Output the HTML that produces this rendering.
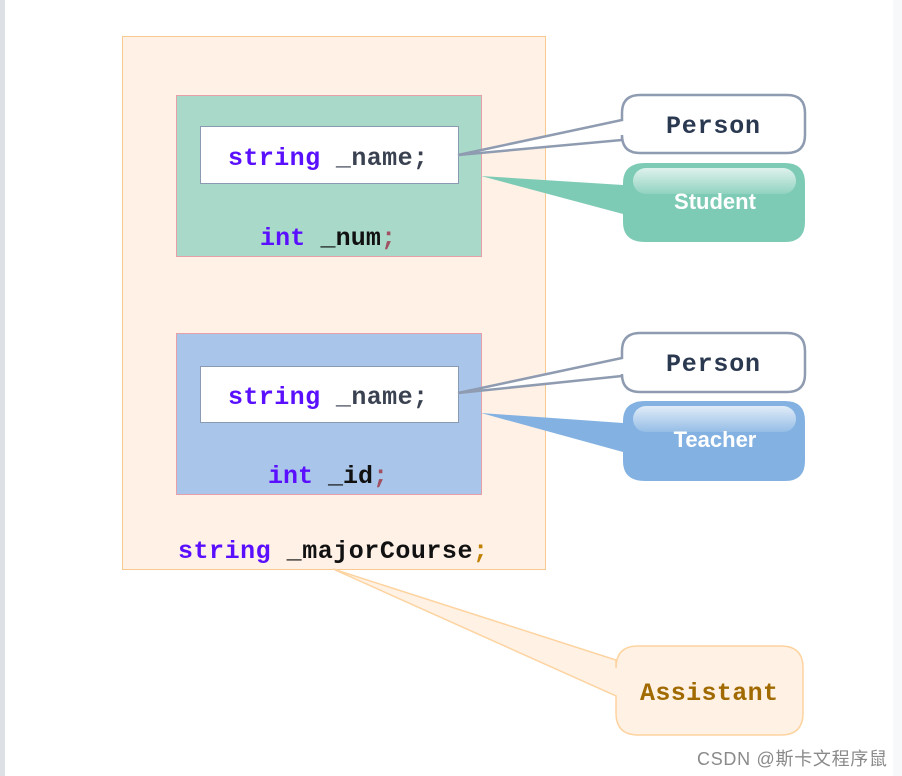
<!DOCTYPE html>
<html><head><meta charset="utf-8"><style>
html,body{margin:0;padding:0;background:#fff;}
svg{display:block;}
text{font-family:"Liberation Mono",monospace;}
</style></head><body>
<svg width="902" height="776" viewBox="0 0 902 776" xmlns="http://www.w3.org/2000/svg">
<defs>
<linearGradient id="gl" x1="0" y1="0" x2="0" y2="1"><stop offset="0" stop-color="#fff" stop-opacity="0.75"/><stop offset="1" stop-color="#fff" stop-opacity="0.15"/></linearGradient>
</defs>
<rect x="0" y="0" width="5" height="776" fill="#dde1e6"/>
<rect x="893" y="0" width="9" height="776" fill="#f7f8f9"/>
<rect x="122.5" y="36.5" width="423" height="533" fill="#fff1e6" stroke="#f9c98f"/>
<rect x="176.5" y="95.5" width="305" height="161" fill="#a9d9c9" stroke="#e8a0a8"/>
<rect x="200.5" y="126.5" width="258" height="57" fill="#fff" stroke="#8a9ab0"/>
<text x="228" y="165" font-size="25" textLength="200" font-weight="bold"><tspan fill="#5a10ff">string</tspan><tspan fill="#3a4150"> _name;</tspan></text>
<text x="260" y="245" font-size="25" textLength="136" font-weight="bold"><tspan fill="#5a10ff">int</tspan><tspan fill="#111"> _num</tspan><tspan fill="#a05060">;</tspan></text>
<rect x="176.5" y="333.5" width="305" height="161" fill="#a9c6ea" stroke="#e8a0a8"/>
<rect x="200.5" y="366.5" width="258" height="56" fill="#fff" stroke="#8a9ab0"/>
<text x="228" y="404" font-size="25" textLength="200" font-weight="bold"><tspan fill="#5a10ff">string</tspan><tspan fill="#3a4150"> _name;</tspan></text>
<text x="268" y="483" font-size="25" textLength="120" font-weight="bold"><tspan fill="#5a10ff">int</tspan><tspan fill="#111"> _id</tspan><tspan fill="#a05060">;</tspan></text>
<text x="178" y="558" font-size="25" textLength="310" font-weight="bold"><tspan fill="#5a10ff">string</tspan><tspan fill="#111"> _majorCourse</tspan><tspan fill="#c08000">;</tspan></text>
<path d="M640,95 H787 Q805,95 805,113 V135 Q805,153 787,153 H640 Q622,153 622,135 V140 L458,155 L622,120 V113 Q622,95 640,95 Z" fill="#fff" stroke="#8e9bb0" stroke-width="2.5"/>
<text x="713" y="133" font-size="25" text-anchor="middle" fill="#2a3850" textLength="94" font-weight="bold">Person</text>
<path d="M645,163 H785 Q805,163 805,183 V222 Q805,242 785,242 H645 Q623,242 623,222 V214 L481,176 L623,185 V183 Q623,163 645,163 Z" fill="#7ecbb5"/>
<rect x="633" y="168" width="163" height="26" rx="13" fill="url(#gl)"/>
<text x="715" y="209" font-size="22" text-anchor="middle" fill="#fff" font-weight="bold" style="font-family:'Liberation Sans',sans-serif">Student</text>
<path d="M640,333 H787 Q805,333 805,351 V374 Q805,392 787,392 H640 Q622,392 622,374 V376 L458,393 L622,358 V351 Q622,333 640,333 Z" fill="#fff" stroke="#8e9bb0" stroke-width="2.5"/>
<text x="713" y="371" font-size="25" text-anchor="middle" fill="#2a3850" textLength="94" font-weight="bold">Person</text>
<path d="M645,401 H785 Q805,401 805,421 V461 Q805,481 785,481 H645 Q623,481 623,461 V452 L481,413 L623,423 V421 Q623,401 645,401 Z" fill="#83b2e2"/>
<rect x="633" y="406" width="163" height="26" rx="13" fill="url(#gl)"/>
<text x="715" y="447" font-size="22" text-anchor="middle" fill="#fff" font-weight="bold" style="font-family:'Liberation Sans',sans-serif">Teacher</text>
<path d="M638,646 H781 Q803,646 803,668 V713 Q803,735 781,735 H638 Q616,735 616,713 V696 L333,569 L616,660 V668 Q616,646 638,646 Z" fill="#fff1e3" stroke="#fdd3a0" stroke-width="1.5"/>
<text x="709" y="700" font-size="25" text-anchor="middle" fill="#a06a00" textLength="138" font-weight="bold">Assistant</text>
<text x="697" y="765" font-size="18" fill="#8a8a8a" textLength="190" style="font-family:'Liberation Sans','Noto Sans CJK SC',sans-serif">CSDN @斯卡文程序鼠</text>
</svg>
</body></html>
